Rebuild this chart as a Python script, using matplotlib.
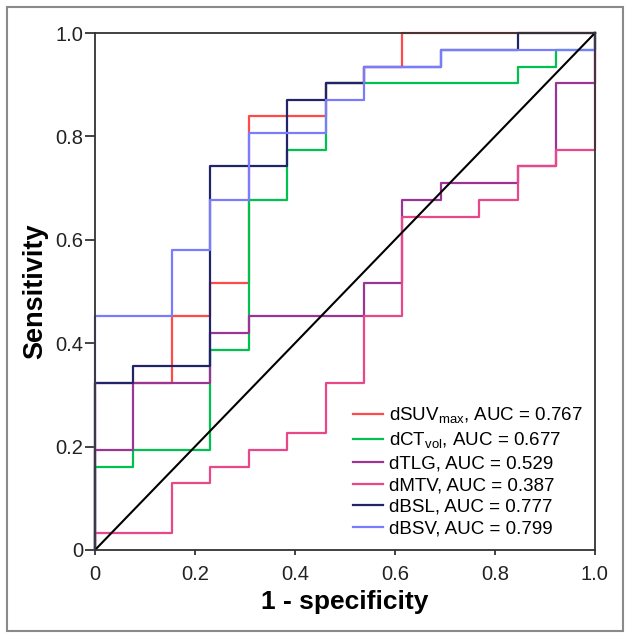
import matplotlib.pyplot as plt
from matplotlib.patches import Rectangle

plt.rcParams['font.family'] = ['Liberation Sans', 'DejaVu Sans']
plt.rcParams['mathtext.fontset'] = 'custom'
plt.rcParams['mathtext.rm'] = 'Liberation Sans'

# ROC corner points (1 - specificity, sensitivity)
suv_x = [0, 0, 0.154, 0.154, 0.231, 0.231, 0.308, 0.308, 0.462, 0.462, 0.538, 0.538, 0.615, 0.615, 1]
suv_y = [0, 0.323, 0.323, 0.452, 0.452, 0.516, 0.516, 0.839, 0.839, 0.903, 0.903, 0.935, 0.935, 1, 1]

ct_x = [0, 0, 0.077, 0.077, 0.231, 0.231, 0.308, 0.308, 0.385, 0.385, 0.462, 0.462, 0.846, 0.846, 0.923, 0.923, 1, 1]
ct_y = [0, 0.161, 0.161, 0.194, 0.194, 0.387, 0.387, 0.677, 0.677, 0.774, 0.774, 0.903, 0.903, 0.935, 0.935, 0.968, 0.968, 1]

tlg_x = [0, 0, 0.077, 0.077, 0.231, 0.231, 0.308, 0.308, 0.538, 0.538, 0.615, 0.615, 0.692, 0.692, 0.846, 0.846, 0.923, 0.923, 1, 1]
tlg_y = [0, 0.194, 0.194, 0.323, 0.323, 0.419, 0.419, 0.452, 0.452, 0.516, 0.516, 0.677, 0.677, 0.710, 0.710, 0.742, 0.742, 0.903, 0.903, 1]

mtv_x = [0, 0, 0.154, 0.154, 0.231, 0.231, 0.308, 0.308, 0.385, 0.385, 0.462, 0.462, 0.538, 0.538,
         0.615, 0.615, 0.769, 0.769, 0.846, 0.846, 0.923, 0.923, 1, 1]
mtv_y = [0, 0.032, 0.032, 0.129, 0.129, 0.161, 0.161, 0.194, 0.194, 0.226, 0.226, 0.323, 0.323, 0.452,
         0.452, 0.645, 0.645, 0.677, 0.677, 0.742, 0.742, 0.774, 0.774, 1]

bsl_x = [0, 0, 0.077, 0.077, 0.231, 0.231, 0.385, 0.385, 0.462, 0.462, 0.538, 0.538, 0.692, 0.692, 0.846, 0.846, 1]
bsl_y = [0, 0.323, 0.323, 0.355, 0.355, 0.742, 0.742, 0.871, 0.871, 0.903, 0.903, 0.935, 0.935, 0.968, 0.968, 1, 1]

bsv_x = [0, 0, 0.154, 0.154, 0.231, 0.231, 0.308, 0.308, 0.462, 0.462, 0.538, 0.538, 0.692, 0.692, 1, 1]
bsv_y = [0, 0.452, 0.452, 0.581, 0.581, 0.677, 0.677, 0.806, 0.806, 0.871, 0.871, 0.935, 0.935, 0.968, 0.968, 1]

labels = ['dSUV$_{\\mathrm{max}}$, AUC = 0.767',
          'dCT$_{\\mathrm{vol}}$, AUC = 0.677',
          'dTLG, AUC = 0.529',
          'dMTV, AUC = 0.387',
          'dBSL, AUC = 0.777',
          'dBSV, AUC = 0.799']
colors = ['#ff4a4a', '#00c050', '#9b3595', '#e8488a', '#22246a', '#7a7cff']

fig = plt.figure(figsize=(6.32, 6.39), dpi=100)
ax = fig.add_axes([0.1503, 0.1393, 0.791, 0.809])

curves = [(suv_x, suv_y), (ct_x, ct_y), (tlg_x, tlg_y), (mtv_x, mtv_y), (bsl_x, bsl_y), (bsv_x, bsv_y)]
for (cx, cy), lab, col in zip(curves, labels, colors):
    ax.plot(cx, cy, color=col, lw=1.6, label=lab, clip_on=False)

ax.plot([0, 1], [0, 1], color='black', lw=1.5, clip_on=False)

ax.set_xlim(0, 1)
ax.set_ylim(0, 1)
ticks = [0, 0.2, 0.4, 0.6, 0.8, 1.0]
ticklabels = ['0', '0.2', '0.4', '0.6', '0.8', '1.0']
ax.set_xticks(ticks)
ax.set_xticklabels(ticklabels)
ax.set_yticks(ticks)
ax.set_yticklabels(ticklabels)
ax.tick_params(axis='x', direction='out', length=3.8, width=1.2, labelsize=14.5, colors='#222222', pad=7)
ax.tick_params(axis='y', direction='out', length=7.5, width=1.2, labelsize=14.5, colors='#222222', pad=1)
for s in ax.spines.values():
    s.set_linewidth(1.3)
    s.set_color('#333333')

ax.set_xlabel('1 - specificity', fontsize=19, fontweight='bold', labelpad=4)
ax.set_ylabel('Sensitivity', fontsize=19.5, fontweight='bold', labelpad=5)

ax.legend(loc='lower right', frameon=False, fontsize=13.5, handlelength=1.6,
          handletextpad=0.3, labelspacing=0.25, borderaxespad=0.25)

fig.patches.append(Rectangle((0.011, 0.0125), 0.975, 0.9765, transform=fig.transFigure,
                             fill=False, edgecolor='#8a8a8a', lw=1.5))

fig.savefig('out.png', dpi=100)
